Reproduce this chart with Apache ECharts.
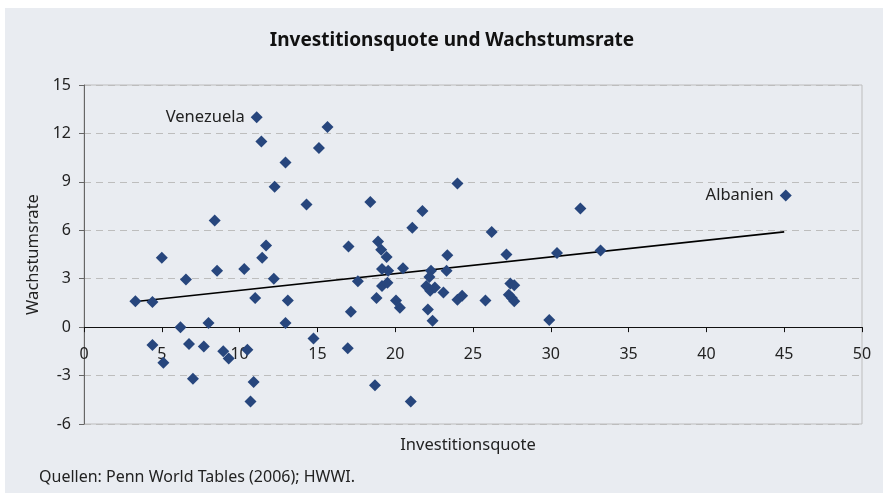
<!DOCTYPE html>
<html>
<head>
<meta charset="utf-8">
<script src="https://cdn.jsdelivr.net/npm/echarts@6/dist/echarts.min.js"></script>
<style>
    html, body { margin: 0; padding: 0; background: #fff; }
    #chart { width: 883px; height: 493px; }
</style>
</head>
<body>
<div id="chart"></div>
<script>
    // Investitionsquote (x) und Wachstumsrate (y) je Land
    let points = [
        [3.3, 1.6], [4.4, 1.55], [4.4, -1.1], [5.0, 4.3], [5.1, -2.2],
        [6.2, 0.0], [6.55, 2.95], [6.75, -1.05], [7.0, -3.2], [7.7, -1.2],
        [8.0, 0.25], [8.4, 6.6], [8.55, 3.5], [8.95, -1.5], [9.3, -1.95],
        [10.3, 3.6], [10.5, -1.4], [10.7, -4.6], [10.9, -3.4], [11.0, 1.8],
        [11.4, 11.5], [11.45, 4.3], [11.7, 5.05], [12.2, 3.0], [12.25, 8.7],
        [12.95, 10.2], [13.1, 1.65], [12.95, 0.25], [14.3, 7.6], [15.1, 11.1],
        [15.65, 12.4], [14.75, -0.7], [17.0, 5.0], [18.4, 7.75], [18.9, 5.3],
        [19.1, 4.8], [19.45, 4.35], [21.1, 6.15], [21.75, 7.2], [24.0, 8.9],
        [23.35, 4.45], [26.2, 5.9], [27.15, 4.5], [30.4, 4.6], [31.9, 7.35],
        [33.2, 4.75], [17.6, 2.85], [19.15, 3.6], [19.55, 3.5], [20.5, 3.65],
        [22.3, 3.5], [22.2, 3.1], [23.3, 3.5], [19.15, 2.55], [19.5, 2.75],
        [18.8, 1.8], [20.05, 1.65], [20.3, 1.2], [17.15, 0.95], [22.0, 2.55],
        [22.25, 2.25], [22.55, 2.45], [23.1, 2.15], [24.0, 1.7], [24.3, 1.95],
        [22.1, 1.1], [22.4, 0.4], [25.8, 1.65], [27.4, 2.7], [27.65, 2.6],
        [27.3, 2.0], [27.5, 1.8], [27.65, 1.6], [29.9, 0.45], [16.95, -1.3],
        [18.7, -3.6], [21.0, -4.6]
    ]
    let venezuela = [11.1, 13.0]
    let albanien = [45.1, 8.15]
    let trend = [[3.5, 1.6], [45, 5.9]]
    let yTicks = [-6, -3, 0, 3, 6, 9, 12, 15]

    let font = 'Noto Sans'
    let gridTop = 85, gridBottom = 69, chartH = 493
    // x-Achse liegt bei y = 0: Abstand von der Unterkante des Rasters
    let plotH = chartH - gridTop - gridBottom
    let zeroOffset = plotH * (0 - yTicks[0]) / (yTicks[yTicks.length - 1] - yTicks[0])

    let mychart = echarts.init(document.getElementById('chart'))
    let option = {
        backgroundColor: '#fff',
        textStyle: { fontFamily: font },
        graphic: [
            {
                type: 'rect', z: -10, silent: true,
                shape: { x: 5, y: 8, width: 878, height: 485 },
                style: { fill: '#e9ecf1' }
            },
            {
                type: 'text', left: 39, top: 469,
                style: { text: 'Quellen: Penn World Tables (2006); HWWI.', fontSize: 16, fill: '#222', fontFamily: font }
            },
            {
                type: 'text', x: 468, y: 437,
                style: { text: 'Investitionsquote', fontSize: 16.5, fill: '#222', fontFamily: font, align: 'center' }
            }
        ],
        title: {
            text: 'Investitionsquote und Wachstumsrate',
            left: 447, top: 26, textAlign: 'center',
            textStyle: { fontSize: 19, fontWeight: 'bold', color: '#111', fontFamily: font }
        },
        grid: {
            left: 84, right: 21, top: gridTop, bottom: gridBottom,
            outerBoundsMode: 'none',
            show: true, backgroundColor: 'transparent', borderColor: '#bdbdbd', borderWidth: 1
        },
        xAxis: {
            type: 'value', min: 0, max: 50, interval: 5,
            position: 'bottom', offset: -zeroOffset,
            axisLine: { onZero: false, lineStyle: { color: '#111', width: 1 } },
            axisTick: { show: true, length: 5, lineStyle: { color: '#111' } },
            axisLabel: { fontSize: 16, color: '#222', margin: 19 },
            splitLine: { show: false }
        },
        yAxis: {
            type: 'value', min: yTicks[0], max: yTicks[yTicks.length - 1], interval: 3,
            name: 'Wachstumsrate', nameLocation: 'middle', nameGap: 42, nameRotate: 90,
            nameTextStyle: { fontSize: 16.5, color: '#222' },
            axisLine: { show: true, onZero: false, lineStyle: { color: '#666' } },
            axisTick: { show: true, length: 5, lineStyle: { color: '#666' } },
            axisLabel: { fontSize: 16, color: '#222', margin: 13 },
            splitLine: { show: true, lineStyle: { color: '#bdbdbd', type: [7, 5] } }
        },
        series: [
            {
                type: 'line',
                data: trend,
                symbol: 'none',
                lineStyle: { color: '#000', width: 1.6 },
                silent: true,
                z: 3
            },
            {
                type: 'scatter',
                symbol: 'diamond',
                symbolSize: 12,
                itemStyle: { color: '#27467d', opacity: 1 },
                z: 4,
                data: points.concat([
                    {
                        value: venezuela,
                        label: { show: true, position: 'left', formatter: 'Venezuela', fontSize: 16.5, color: '#222', distance: 6 }
                    },
                    {
                        value: albanien,
                        label: { show: true, position: 'left', formatter: 'Albanien', fontSize: 16.5, color: '#222', distance: 6 }
                    }
                ])
            }
        ]
    };
    mychart.setOption(option)
</script>
</body>
</html>
